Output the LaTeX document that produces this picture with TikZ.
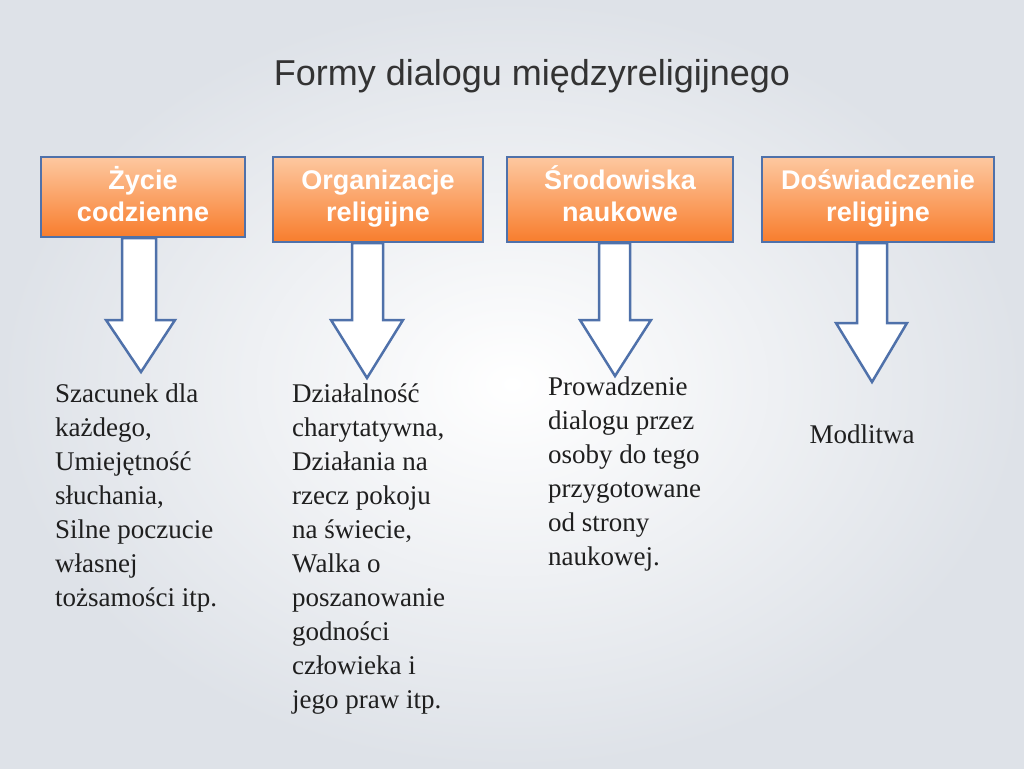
\documentclass[tikz,border=0pt]{standalone}
\usepackage{fontspec}
\setmainfont{Liberation Serif}
\setsansfont{Liberation Sans}
\definecolor{bord}{RGB}{79,113,170}
\definecolor{otop}{RGB}{253,200,160}
\definecolor{obot}{RGB}{248,125,45}
\definecolor{bgout}{RGB}{222,226,232}
\newcommand{\hs}{\vphantom{ŚŻg}}
\begin{document}
\begin{tikzpicture}[x=1pt,y=-1pt,
  hdr/.style={draw=bord, line width=2.5pt, top color=otop, bottom color=obot, inner sep=0pt},
  htext/.style={font=\sffamily\bfseries\fontsize{27}{32}\selectfont, text=white, align=center, inner sep=0pt},
  arr/.style={draw=bord, line width=2.5pt, fill=white, line join=miter},
  body/.style={font=\fontsize{27}{34}\selectfont, align=left, anchor=north west, inner sep=0pt, text=black!88}]
\useasboundingbox (0,0) rectangle (1024,768);
\shade[inner color=white, outer color=bgout] (0,0) rectangle (1024,768);
\node[font=\sffamily\fontsize{36}{40}\selectfont, text=black!80] (title) at (532,76) {Formy dialogu międzyreligijnego};

\node[hdr, minimum width=204, minimum height=80] (h1) at (143,197) {};
\node[hdr, minimum width=210, minimum height=85] (h2) at (378,199.5) {};
\node[hdr, minimum width=226, minimum height=85] (h3) at (620,199.5) {};
\node[hdr, minimum width=232, minimum height=85] (h4) at (878,199.5) {};
\node[htext] (l1) at (143,196) {\hs Życie\\\hs codzienne};
\node[htext] (l2) at (378,196) {\hs Organizacje\\\hs religijne};
\node[htext] (l3) at (620,196) {\hs Środowiska\\\hs naukowe};
\node[htext] (l4) at (878,196) {\hs Doświadczenie\\\hs religijne};

\draw[arr] (122,238) -- (156,238) -- (156,320) -- (175,320) -- (141,372) -- (106,320) -- (122,320) -- cycle;
\draw[arr] (352,243) -- (383,243) -- (383,320) -- (403,320) -- (367,378) -- (331,320) -- (352,320) -- cycle;
\draw[arr] (599,243) -- (630,243) -- (630,320) -- (651,320) -- (615,376) -- (580,320) -- (599,320) -- cycle;
\draw[arr] (857,243) -- (887,243) -- (887,323) -- (907,323) -- (872,382) -- (836,323) -- (857,323) -- cycle;

\node[body] (t1) at (55,384) {Szacunek dla\\każdego,\\Umiejętność\\słuchania,\\Silne poczucie\\własnej\\tożsamości itp.};
\node[body] (t2) at (292,384) {Działalność\\charytatywna,\\Działania na\\rzecz pokoju\\na świecie,\\Walka o\\poszanowanie\\godności\\człowieka i\\jego praw itp.};
\node[body] (t3) at (548,377) {Prowadzenie\\dialogu przez\\osoby do tego\\przygotowane\\od strony\\naukowej.};
\node[body, anchor=center] (t4) at (862,434) {Modlitwa};
\end{tikzpicture}
\end{document}
